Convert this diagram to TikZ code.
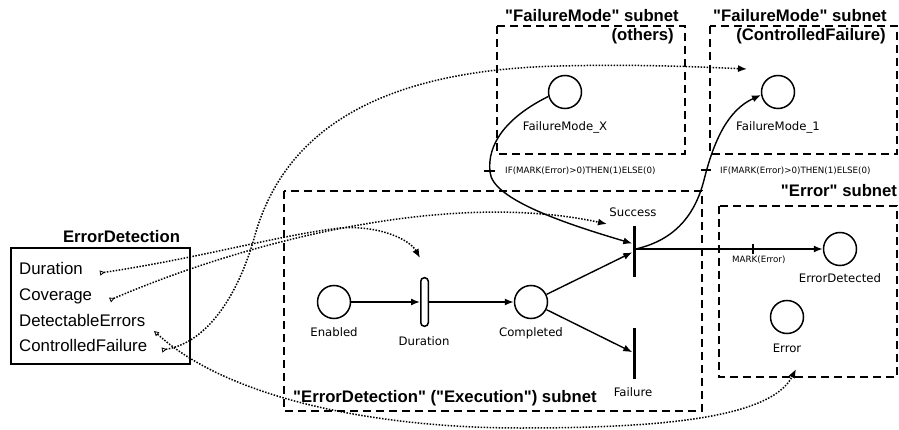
\documentclass[tikz,border=0pt]{standalone}
\usepackage{fontspec}
\setmainfont{Liberation Sans}
\newfontfamily\lsans{Liberation Sans}
\newfontfamily\dvs{DejaVu Sans}
\usetikzlibrary{arrows.meta}
\tikzset{
  porttip/.tip={Triangle[open,reversed,length=5pt,width=5pt,line width=0.8pt]},
  porttipb/.tip={Triangle[open,length=5pt,width=5pt,line width=0.8pt]},
  ptip/.tip={Latex[length=9pt,width=7pt]}
}
\begin{document}
\begin{tikzpicture}[x=1pt,y=-1pt,
  pplace/.style={circle,draw,line width=1.5pt,minimum size=33pt,inner sep=0pt,fill=white},
  tbar/.style={rectangle,fill=black,minimum width=3pt,minimum height=51pt,inner sep=0pt},
  ttimed/.style={rectangle,draw,line width=1.5pt,rounded corners=3.5pt,minimum width=7.5pt,minimum height=48.5pt,inner sep=0pt,fill=white},
  subnet/.style={draw,line width=1.8pt,dash pattern=on 8pt off 5pt},
  pnarc/.style={line width=1.4pt,-{Latex[length=9pt,width=7pt]}},
  param/.style={line width=1.5pt,dash pattern=on 1.5pt off 1.5pt},
  lbl/.style={font=\dvs\fontsize{11.7}{14}\selectfont,inner sep=0pt,anchor=base},
  insc/.style={font=\dvs\fontsize{8.7}{10}\selectfont,inner sep=0pt,anchor=base west},
  ttl/.style={font=\lsans\bfseries\fontsize{16.7}{20}\selectfont,inner sep=0pt,anchor=base},
  edtext/.style={font=\lsans\fontsize{16.8}{20}\selectfont,inner sep=0pt,anchor=base west},
  tick/.style={line width=1.3pt}
]
\path[use as bounding box] (0,0) rectangle (899,430);

% subnet frames
\draw[subnet] (497,26) rectangle (685,154);
\draw[subnet] (710,26) rectangle (897,154);
\draw[subnet] (284,191) rectangle (702,411);
\draw[subnet] (719,206) rectangle (897,377);

% ErrorDetection block
\draw[line width=1.5pt] (11,248) rectangle (190,364);
\node[ttl] (edtitle) at (121.5,242.5) {ErrorDetection};
\node[edtext] (edDur) at (19,275) {Duration};
\node[edtext] (edCov) at (19,300) {Coverage};
\node[edtext] (edDet) at (19,326) {DetectableErrors};
\node[edtext] (edCF) at (19,351) {ControlledFailure};

% titles
\node[ttl] (t1) at (592,22) {"FailureMode" subnet};
\node[ttl,anchor=base east] (t1b) at (674,40.5) {(others)};
\node[ttl] (t2) at (800,22) {"FailureMode" subnet};
\node[ttl] (t2b) at (811,40.5) {(ControlledFailure)};
\node[ttl] (t3) at (839,197) {"Error" subnet};
\node[ttl,anchor=base west] (t4) at (293,402) {"ErrorDetection" ("Execution") subnet};

% places and transitions
\node[pplace] (en) at (334,302) {};
\node[ttimed] (dur) at (424.5,302) {};
\node[pplace] (comp) at (531,302) {};
\node[tbar] (succ) at (634,251.5) {};
\node[tbar] (fail) at (634,353) {};
\node[pplace] (errdet) at (840,249) {};
\node[pplace] (err) at (787,317) {};
\node[pplace] (fmx) at (565,92) {};
\node[pplace] (fm1) at (778,92) {};

% labels
\node[lbl] (lEn) at (334,336) {Enabled};
\node[lbl] (lDur) at (424,345) {Duration};
\node[lbl] (lComp) at (531,336) {Completed};
\node[lbl] (lSucc) at (633,217) {Success};
\node[lbl] (lFail) at (633,396) {Failure};
\node[lbl] (lErrDet) at (840,283) {ErrorDetected};
\node[lbl] (lErr) at (787,352) {Error};
\node[lbl] (lFmx) at (565,131) {FailureMode\_X};
\node[lbl] (lFm1) at (778,131) {FailureMode\_1};

\node[insc] (i1) at (505,174) {IF(MARK(Error)>0)THEN(1)ELSE(0)};
\node[insc] (i2) at (720,174) {IF(MARK(Error)>0)THEN(1)ELSE(0)};
\node[insc] (i3) at (732,263) {MARK(Error)};

% arcs
\draw[pnarc] (en) -- (dur);
\draw[pnarc] (dur) -- (comp);
\draw[pnarc] (comp) -- (succ);
\draw[pnarc] (comp) -- (fail);
\draw[pnarc] ([yshift=2.5pt]succ.east) -- (errdet);
\draw[pnarc] (fmx.195) .. controls (505,118) and (487,145) .. (490,172)
  .. controls (492,200) and (570,225) .. ([yshift=8pt]succ.west);
\draw[pnarc] ([yshift=2.5pt]succ.east) .. controls (675,240) and (695,215) .. (704,180)
  .. controls (714,140) and (728,110) .. (fm1.190);

% inscription ticks
\draw[tick] (484,171) -- (495,171);
\draw[tick] (701,170) -- (711,170);
\draw[tick] (753,244) -- (753,254);

% parameter links
\coordinate (pdur) at (100,273);
\coordinate (pcov) at (110,300);
\coordinate (pdet) at (154,331);
\coordinate (pcf) at (162,350);
\coordinate (durin) at (420,258);
\coordinate (succin) at (607,224);
\coordinate (fm1in) at (747,69);
\coordinate (errin) at (796,369);

\draw[param,{porttip}-{ptip}] (pdur) .. controls (200,258) and (280,235) .. (340,228)
  .. controls (380,225) and (410,240) .. (durin);
\draw[param,{porttip}-{ptip}] (pcov) .. controls (250,240) and (450,190) .. (succin);
\draw[param,{porttip}-{ptip}] (pcf) .. controls (210,342) and (240,290) .. (255,235)
  .. controls (285,130) and (380,70) .. (560,66)
  .. controls (640,64) and (700,67) .. (fm1in);
\draw[param,{porttipb}-{ptip}] (pdet) .. controls (230,400) and (380,428) .. (520,428)
  .. controls (650,428) and (770,420) .. (errin);
\end{tikzpicture}
\end{document}
